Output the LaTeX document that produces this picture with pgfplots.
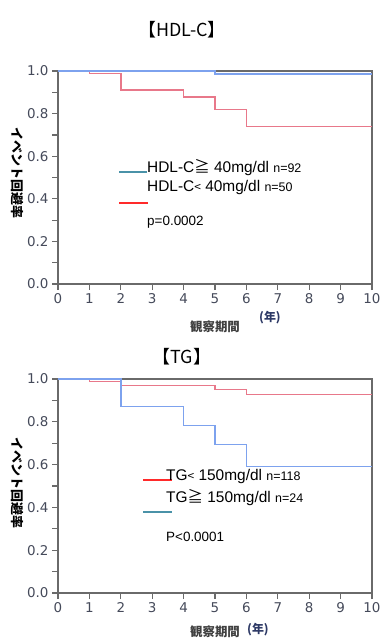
\documentclass[border=0pt]{standalone}
\usepackage{pgfplots}
\pgfplotsset{compat=1.18}
\usepackage{fontspec}
\setmainfont{Liberation Sans}
\newfontfamily\jp{Noto Sans CJK JP}
\newfontfamily\tickfont{DejaVu Sans}
\definecolor{kmblue}{HTML}{7DA2EE}
\definecolor{kmred}{HTML}{E8788A}
\definecolor{legteal}{HTML}{4A92A8}
\definecolor{legred}{HTML}{FF2A2A}
\definecolor{framec}{HTML}{6A6A6A}
\definecolor{ticktext}{HTML}{454A5A}
\definecolor{nenc}{HTML}{2E3A66}

\pgfplotsset{kmaxis/.style={
  scale only axis, width=314bp, height=213bp,
  xmin=0, xmax=10, ymin=0, ymax=1,
  xtick={0,1,2,3,4,5,6,7,8,9,10},
  ytick={0,0.2,0.4,0.6,0.8,1},
  minor ytick={0.1,0.3,0.5,0.7,0.9},
  yticklabel style={/pgf/number format/.cd,fixed,fixed zerofill,precision=1},
  tick align=outside, tick pos=left,
  major tick length=6bp, minor tick length=6bp,
  axis line style={framec, line width=1.6bp},
  every tick/.style={framec, line width=1.2bp},
  tick label style={font=\tickfont\fontsize{13.5}{13.5}\selectfont, text=ticktext},
  /pgf/number format/assume math mode=true,
  clip=false,
}}

\begin{document}
\begin{tikzpicture}
\path[use as bounding box] (0,0) rectangle (383bp,-640bp);

% ---------- HDL-C ----------
\node at (182bp,-30bp) {\jp\fontsize{18}{18}\selectfont 【HDL-C】};
\begin{axis}[kmaxis, at={(58bp,-284bp)}, anchor=south west]
\addplot[kmred, line width=1.4bp, const plot] coordinates {
(0,1) (1,0.989) (2,0.911) (4,0.878) (5,0.820) (6,0.739) (10,0.739)};
\addplot[kmblue, line width=1.4bp, const plot] coordinates {
(0,1) (5,0.986) (10,0.986)};
\end{axis}
\draw[legteal, line width=1.3bp] (119bp,-172bp) -- (147bp,-172bp);
\draw[legred, line width=1.3bp] (119bp,-203bp) -- (148bp,-203bp);
\node[anchor=west, inner sep=0pt] at (147bp,-167.5bp) {\fontsize{15.5}{15.5}\selectfont HDL-C{\jp ≧} 40mg/dl {\fontsize{12.5}{12.5}\selectfont n=92}};
\node[anchor=west, inner sep=0pt] at (147bp,-188bp) {\fontsize{15.5}{15.5}\selectfont HDL-C{\jp\fontsize{12}{12}\selectfont <} 40mg/dl {\fontsize{12.5}{12.5}\selectfont n=50}};
\node[anchor=west, inner sep=0pt] at (147bp,-222bp) {\fontsize{13.5}{13.5}\selectfont p=0.0002};
\node[rotate=-90] at (17bp,-173bp) {\jp\bfseries\fontsize{13}{13}\selectfont イベント回避率};
\node[text=black!75] at (215bp,-327bp) {\jp\bfseries\fontsize{12.5}{12.5}\selectfont 観察期間};
\node[text=nenc] at (270bp,-318bp) {\jp\bfseries\fontsize{12}{12}\selectfont (年)};

% ---------- TG ----------
\node at (182bp,-357bp) {\jp\fontsize{18}{18}\selectfont 【TG】};
\begin{axis}[kmaxis, at={(58bp,-593bp)}, anchor=south west, height=214bp]
\addplot[kmred, line width=1.4bp, const plot] coordinates {
(0,1) (1,0.987) (2,0.970) (5,0.950) (6,0.927) (10,0.927)};
\addplot[kmblue, line width=1.4bp, const plot] coordinates {
(0,1) (2,0.872) (4,0.783) (5,0.693) (6,0.591) (10,0.591)};
\end{axis}
\draw[legred, line width=1.3bp] (143bp,-480bp) -- (172bp,-480bp);
\draw[legteal, line width=1.3bp] (143bp,-512bp) -- (172bp,-512bp);
\node[anchor=west, inner sep=0pt] at (166bp,-477bp) {\fontsize{15.5}{15.5}\selectfont TG{\jp\fontsize{12}{12}\selectfont <} 150mg/dl {\fontsize{12.5}{12.5}\selectfont n=118}};
\node[anchor=west, inner sep=0pt] at (166bp,-498bp) {\fontsize{15.5}{15.5}\selectfont TG{\jp ≧} 150mg/dl {\fontsize{12.5}{12.5}\selectfont n=24}};
\node[anchor=west, inner sep=0pt] at (166bp,-537bp) {\fontsize{13.5}{13.5}\selectfont P<0.0001};
\node[rotate=-90] at (17bp,-483bp) {\jp\bfseries\fontsize{13}{13}\selectfont イベント回避率};
\node[text=black!75] at (215bp,-632bp) {\jp\bfseries\fontsize{12.5}{12.5}\selectfont 観察期間};
\node[text=nenc] at (258bp,-630bp) {\jp\bfseries\fontsize{12}{12}\selectfont (年)};
\end{tikzpicture}
\end{document}
